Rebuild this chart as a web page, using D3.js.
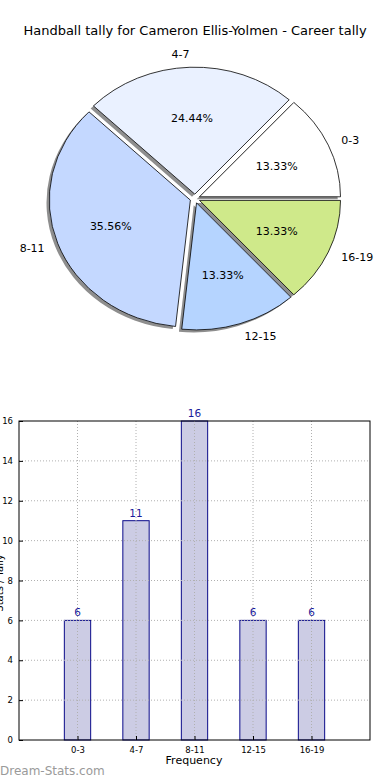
<!DOCTYPE html>
<html><head><meta charset="utf-8">
<script src="https://cdn.jsdelivr.net/npm/d3@7"></script>
<style>body{margin:0;background:#fff}svg{display:block;font-family:"DejaVu Sans",sans-serif}</style>
</head><body><svg id="c" width="390" height="780"></svg>
<script>
const title = "Handball tally for Cameron Ellis-Yolmen - Career tally";
const categories = ["0-3","4-7","8-11","12-15","16-19"];
const tally = [6,11,16,6,6];
const pieColors = ["#ffffff","#eaf1ff","#c4d8ff","#b5d4ff","#cfe98a"];
const yTicks = [0,2,4,6,8,10,12,14,16];
const xLabel = "Frequency";
const yLabel = "Stats / Tally";
const watermark = "Dream-Stats.com";

const svg = d3.select("#c");
svg.append("text").attr("x",195).attr("y",35).attr("text-anchor","middle")
  .attr("font-size",13).attr("fill","#000").text(title);

// ---- Pie ----
const cx=195, cy=198.6, rx=141, ry=127, expl=0.035;
const total = d3.sum(tally);
const pie = d3.pie().sort(null).startAngle(Math.PI/2).endAngle(Math.PI/2-2*Math.PI);
const arcs = pie(tally);
const arc = d3.arc().innerRadius(0).outerRadius(1);
const pt = (a,r)=>[Math.sin(a)*r, -Math.cos(a)*r];
const pg = svg.append("g");
arcs.forEach((d)=>{
  const m=(d.startAngle+d.endAngle)/2; const [ux,uy]=pt(m,expl);
  pg.append("path").attr("d",arc(d))
    .attr("transform",`translate(${cx+ux*rx-2.8},${cy+uy*ry+2.5}) scale(${rx},${ry})`)
    .attr("fill","#8e8e8e");
});
arcs.forEach((d,i)=>{
  const m=(d.startAngle+d.endAngle)/2; const [ux,uy]=pt(m,expl);
  pg.append("path").attr("d",arc(d))
    .attr("transform",`translate(${cx+ux*rx},${cy+uy*ry}) scale(${rx},${ry})`)
    .attr("fill",pieColors[i]).attr("stroke","#000").attr("stroke-width",0.8)
    .attr("vector-effect","non-scaling-stroke");
});
arcs.forEach((d,i)=>{
  const m=(d.startAngle+d.endAngle)/2; const [ux,uy]=pt(m,1);
  const ox=cx+ux*expl*rx, oy=cy+uy*expl*ry;
  pg.append("text").attr("x",ox+ux*0.6*rx).attr("y",oy+uy*0.6*ry).attr("dy","0.35em")
    .attr("text-anchor","middle").attr("font-size",11).text((d.value/total*100).toFixed(2)+"%");
  pg.append("text").attr("x",ox+ux*1.1*rx).attr("y",oy+uy*1.1*ry).attr("dy","0.35em")
    .attr("text-anchor",ux>0?"start":"end").attr("font-size",11).text(categories[i]);
});

// ---- Bar chart ----
const L=19,R=370,T=421,B=740;
const x = d3.scaleLinear().domain([-1,5]).range([L,R]);
const y = d3.scaleLinear().domain([0,16]).range([B,T]);
const bw = x(0.45)-x(0);
const bg = svg.append("g");
bg.selectAll("rect.bar").data(tally).join("rect").attr("class","bar")
  .attr("x",(d,i)=>x(i)-bw/2).attr("y",d=>y(d)).attr("width",bw).attr("height",d=>y(0)-y(d))
  .attr("fill","#ccccе4".replace("е","e")).attr("stroke","#0a0a8a").attr("stroke-width",1);
const grid = bg.append("g").attr("stroke","#b0b0b0").attr("stroke-dasharray","1,2").attr("stroke-width",1);
yTicks.slice(1,-1).forEach(t=>grid.append("line").attr("x1",L).attr("x2",R).attr("y1",y(t)).attr("y2",y(t)));
categories.forEach((c,i)=>grid.append("line").attr("x1",x(i)).attr("x2",x(i)).attr("y1",T).attr("y2",B));
const yAxis = d3.axisLeft(y).tickValues(yTicks).tickSize(-4).tickPadding(6);
const ya = bg.append("g").attr("transform",`translate(${L},0)`).call(yAxis);
ya.select(".domain").remove();
ya.selectAll("text").attr("font-size",8.5).attr("font-family","DejaVu Sans");
const xAxis = d3.axisBottom(x).tickValues(d3.range(categories.length)).tickFormat(i=>categories[i]).tickSize(-4).tickPadding(7);
const xa = bg.append("g").attr("transform",`translate(0,${B})`).call(xAxis);
xa.select(".domain").remove();
xa.selectAll("text").attr("font-size",8.5).attr("font-family","DejaVu Sans");
bg.append("rect").attr("x",L).attr("y",T).attr("width",R-L).attr("height",B-T)
  .attr("fill","none").attr("stroke","#000").attr("stroke-width",1);
bg.selectAll("text.val").data(tally).join("text").attr("class","val")
  .attr("x",(d,i)=>x(i)).attr("y",d=>y(d)-4).attr("text-anchor","middle")
  .attr("font-size",10.5).attr("fill","#1a1a9a").text(d=>d);
svg.append("text").attr("x",194).attr("y",764).attr("text-anchor","middle").attr("font-size",11).text(xLabel);
svg.append("text").attr("transform","translate(2.5,583) rotate(-90)").attr("text-anchor","middle")
  .attr("font-size",10).text(yLabel);
svg.append("text").attr("x",0).attr("y",775).attr("font-size",12)
  .attr("fill","#9a9a9a").text(watermark);
</script></body></html>
